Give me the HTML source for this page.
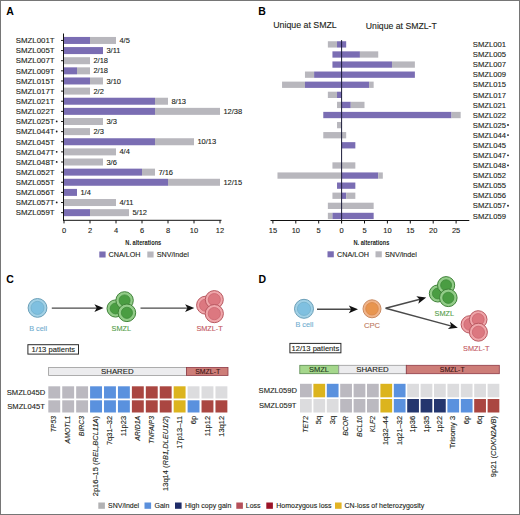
<!DOCTYPE html>
<html><head><meta charset="utf-8"><style>
html,body{margin:0;padding:0;background:#fff;}
svg{display:block;font-family:"Liberation Sans", sans-serif;}
</style></head><body>
<svg width="520" height="515" viewBox="0 0 520 515">
<rect width="520" height="515" fill="#fff"/>
<text x="6.3" y="14.6" font-size="10.5" text-anchor="start" fill="#000" font-weight="bold" font-style="normal" >A</text>
<rect x="90" y="36.95" width="26" height="7" fill="#b8b7bd" />
<rect x="64" y="36.95" width="26" height="7" fill="#7a6db3" />
<text x="54.6" y="43.2" font-size="7.85" text-anchor="end" fill="#231f20" font-weight="normal" font-style="normal" stroke="#231f20" stroke-width="0.12" >SMZL001T</text>
<line x1="61" y1="40.45" x2="63.5" y2="40.45" stroke="#222" stroke-width="1.0"/>
<text x="119.4" y="43.05" font-size="7.5" text-anchor="start" fill="#231f20" font-weight="normal" font-style="normal" stroke="#231f20" stroke-width="0.12" >4/5</text>
<rect x="64" y="47.08" width="39" height="7" fill="#7a6db3" />
<text x="54.6" y="53.33" font-size="7.85" text-anchor="end" fill="#231f20" font-weight="normal" font-style="normal" stroke="#231f20" stroke-width="0.12" >SMZL005T</text>
<line x1="61" y1="50.58" x2="63.5" y2="50.58" stroke="#222" stroke-width="1.0"/>
<text x="106.4" y="53.18" font-size="7.5" text-anchor="start" fill="#231f20" font-weight="normal" font-style="normal" stroke="#231f20" stroke-width="0.12" >3/11</text>
<rect x="64" y="57.21" width="26" height="7" fill="#b8b7bd" />
<text x="54.6" y="63.46" font-size="7.85" text-anchor="end" fill="#231f20" font-weight="normal" font-style="normal" stroke="#231f20" stroke-width="0.12" >SMZL007T</text>
<line x1="61" y1="60.71" x2="63.5" y2="60.71" stroke="#222" stroke-width="1.0"/>
<text x="93.4" y="63.31" font-size="7.5" text-anchor="start" fill="#231f20" font-weight="normal" font-style="normal" stroke="#231f20" stroke-width="0.12" >2/18</text>
<rect x="77" y="67.34" width="13" height="7" fill="#b8b7bd" />
<rect x="64" y="67.34" width="13" height="7" fill="#7a6db3" />
<text x="54.6" y="73.59" font-size="7.85" text-anchor="end" fill="#231f20" font-weight="normal" font-style="normal" stroke="#231f20" stroke-width="0.12" >SMZL009T</text>
<line x1="61" y1="70.84" x2="63.5" y2="70.84" stroke="#222" stroke-width="1.0"/>
<text x="93.4" y="73.44" font-size="7.5" text-anchor="start" fill="#231f20" font-weight="normal" font-style="normal" stroke="#231f20" stroke-width="0.12" >2/18</text>
<rect x="90" y="77.47" width="13" height="7" fill="#b8b7bd" />
<rect x="64" y="77.47" width="26" height="7" fill="#7a6db3" />
<text x="54.6" y="83.72" font-size="7.85" text-anchor="end" fill="#231f20" font-weight="normal" font-style="normal" stroke="#231f20" stroke-width="0.12" >SMZL015T</text>
<line x1="61" y1="80.97" x2="63.5" y2="80.97" stroke="#222" stroke-width="1.0"/>
<text x="106.4" y="83.57" font-size="7.5" text-anchor="start" fill="#231f20" font-weight="normal" font-style="normal" stroke="#231f20" stroke-width="0.12" >3/10</text>
<rect x="64" y="87.6" width="26" height="7" fill="#b8b7bd" />
<text x="54.6" y="93.85" font-size="7.85" text-anchor="end" fill="#231f20" font-weight="normal" font-style="normal" stroke="#231f20" stroke-width="0.12" >SMZL017T</text>
<line x1="61" y1="91.1" x2="63.5" y2="91.1" stroke="#222" stroke-width="1.0"/>
<text x="93.4" y="93.7" font-size="7.5" text-anchor="start" fill="#231f20" font-weight="normal" font-style="normal" stroke="#231f20" stroke-width="0.12" >2/2</text>
<rect x="155" y="97.73" width="13" height="7" fill="#b8b7bd" />
<rect x="64" y="97.73" width="91" height="7" fill="#7a6db3" />
<text x="54.6" y="103.98" font-size="7.85" text-anchor="end" fill="#231f20" font-weight="normal" font-style="normal" stroke="#231f20" stroke-width="0.12" >SMZL021T</text>
<line x1="61" y1="101.23" x2="63.5" y2="101.23" stroke="#222" stroke-width="1.0"/>
<text x="171.4" y="103.83" font-size="7.5" text-anchor="start" fill="#231f20" font-weight="normal" font-style="normal" stroke="#231f20" stroke-width="0.12" >8/13</text>
<rect x="155" y="107.86" width="65" height="7" fill="#b8b7bd" />
<rect x="64" y="107.86" width="91" height="7" fill="#7a6db3" />
<text x="54.6" y="114.11" font-size="7.85" text-anchor="end" fill="#231f20" font-weight="normal" font-style="normal" stroke="#231f20" stroke-width="0.12" >SMZL022T</text>
<line x1="61" y1="111.36" x2="63.5" y2="111.36" stroke="#222" stroke-width="1.0"/>
<text x="223.4" y="113.96" font-size="7.5" text-anchor="start" fill="#231f20" font-weight="normal" font-style="normal" stroke="#231f20" stroke-width="0.12" >12/38</text>
<rect x="64" y="117.99" width="39" height="7" fill="#b8b7bd" />
<text x="54.6" y="124.24" font-size="7.85" text-anchor="end" fill="#231f20" font-weight="normal" font-style="normal" stroke="#231f20" stroke-width="0.12" >SMZL025T</text>
<circle cx="56.7" cy="121.39" r="0.9" fill="#231f20"/>
<line x1="61" y1="121.49" x2="63.5" y2="121.49" stroke="#222" stroke-width="1.0"/>
<text x="106.4" y="124.09" font-size="7.5" text-anchor="start" fill="#231f20" font-weight="normal" font-style="normal" stroke="#231f20" stroke-width="0.12" >3/3</text>
<rect x="64" y="128.12" width="26" height="7" fill="#b8b7bd" />
<text x="54.6" y="134.37" font-size="7.85" text-anchor="end" fill="#231f20" font-weight="normal" font-style="normal" stroke="#231f20" stroke-width="0.12" >SMZL044T</text>
<circle cx="56.7" cy="131.52" r="0.9" fill="#231f20"/>
<line x1="61" y1="131.62" x2="63.5" y2="131.62" stroke="#222" stroke-width="1.0"/>
<text x="93.4" y="134.22" font-size="7.5" text-anchor="start" fill="#231f20" font-weight="normal" font-style="normal" stroke="#231f20" stroke-width="0.12" >2/3</text>
<rect x="155" y="138.25" width="39" height="7" fill="#b8b7bd" />
<rect x="64" y="138.25" width="91" height="7" fill="#7a6db3" />
<text x="54.6" y="144.5" font-size="7.85" text-anchor="end" fill="#231f20" font-weight="normal" font-style="normal" stroke="#231f20" stroke-width="0.12" >SMZL045T</text>
<line x1="61" y1="141.75" x2="63.5" y2="141.75" stroke="#222" stroke-width="1.0"/>
<text x="197.4" y="144.35" font-size="7.5" text-anchor="start" fill="#231f20" font-weight="normal" font-style="normal" stroke="#231f20" stroke-width="0.12" >10/13</text>
<rect x="64" y="148.38" width="52" height="7" fill="#b8b7bd" />
<text x="54.6" y="154.63" font-size="7.85" text-anchor="end" fill="#231f20" font-weight="normal" font-style="normal" stroke="#231f20" stroke-width="0.12" >SMZL047T</text>
<circle cx="56.7" cy="151.78" r="0.9" fill="#231f20"/>
<line x1="61" y1="151.88" x2="63.5" y2="151.88" stroke="#222" stroke-width="1.0"/>
<text x="119.4" y="154.48" font-size="7.5" text-anchor="start" fill="#231f20" font-weight="normal" font-style="normal" stroke="#231f20" stroke-width="0.12" >4/4</text>
<rect x="64" y="158.51" width="39" height="7" fill="#b8b7bd" />
<text x="54.6" y="164.76" font-size="7.85" text-anchor="end" fill="#231f20" font-weight="normal" font-style="normal" stroke="#231f20" stroke-width="0.12" >SMZL048T</text>
<circle cx="56.7" cy="161.91" r="0.9" fill="#231f20"/>
<line x1="61" y1="162.01" x2="63.5" y2="162.01" stroke="#222" stroke-width="1.0"/>
<text x="106.4" y="164.61" font-size="7.5" text-anchor="start" fill="#231f20" font-weight="normal" font-style="normal" stroke="#231f20" stroke-width="0.12" >3/6</text>
<rect x="142" y="168.64" width="13" height="7" fill="#b8b7bd" />
<rect x="64" y="168.64" width="78" height="7" fill="#7a6db3" />
<text x="54.6" y="174.89" font-size="7.85" text-anchor="end" fill="#231f20" font-weight="normal" font-style="normal" stroke="#231f20" stroke-width="0.12" >SMZL052T</text>
<line x1="61" y1="172.14" x2="63.5" y2="172.14" stroke="#222" stroke-width="1.0"/>
<text x="158.4" y="174.74" font-size="7.5" text-anchor="start" fill="#231f20" font-weight="normal" font-style="normal" stroke="#231f20" stroke-width="0.12" >7/16</text>
<rect x="168" y="178.77" width="52" height="7" fill="#b8b7bd" />
<rect x="64" y="178.77" width="104" height="7" fill="#7a6db3" />
<text x="54.6" y="185.02" font-size="7.85" text-anchor="end" fill="#231f20" font-weight="normal" font-style="normal" stroke="#231f20" stroke-width="0.12" >SMZL055T</text>
<line x1="61" y1="182.27" x2="63.5" y2="182.27" stroke="#222" stroke-width="1.0"/>
<text x="223.4" y="184.87" font-size="7.5" text-anchor="start" fill="#231f20" font-weight="normal" font-style="normal" stroke="#231f20" stroke-width="0.12" >12/15</text>
<rect x="64" y="188.9" width="13" height="7" fill="#7a6db3" />
<text x="54.6" y="195.15" font-size="7.85" text-anchor="end" fill="#231f20" font-weight="normal" font-style="normal" stroke="#231f20" stroke-width="0.12" >SMZL056T</text>
<line x1="61" y1="192.4" x2="63.5" y2="192.4" stroke="#222" stroke-width="1.0"/>
<text x="80.4" y="195" font-size="7.5" text-anchor="start" fill="#231f20" font-weight="normal" font-style="normal" stroke="#231f20" stroke-width="0.12" >1/4</text>
<rect x="64" y="199.03" width="52" height="7" fill="#b8b7bd" />
<text x="54.6" y="205.28" font-size="7.85" text-anchor="end" fill="#231f20" font-weight="normal" font-style="normal" stroke="#231f20" stroke-width="0.12" >SMZL057T</text>
<circle cx="56.7" cy="202.43" r="0.9" fill="#231f20"/>
<line x1="61" y1="202.53" x2="63.5" y2="202.53" stroke="#222" stroke-width="1.0"/>
<text x="119.4" y="205.13" font-size="7.5" text-anchor="start" fill="#231f20" font-weight="normal" font-style="normal" stroke="#231f20" stroke-width="0.12" >4/11</text>
<rect x="90" y="209.16" width="39" height="7" fill="#b8b7bd" />
<rect x="64" y="209.16" width="26" height="7" fill="#7a6db3" />
<text x="54.6" y="215.41" font-size="7.85" text-anchor="end" fill="#231f20" font-weight="normal" font-style="normal" stroke="#231f20" stroke-width="0.12" >SMZL059T</text>
<line x1="61" y1="212.66" x2="63.5" y2="212.66" stroke="#222" stroke-width="1.0"/>
<text x="132.4" y="215.26" font-size="7.5" text-anchor="start" fill="#231f20" font-weight="normal" font-style="normal" stroke="#231f20" stroke-width="0.12" >5/12</text>
<line x1="63.5" y1="33.5" x2="63.5" y2="220.8" stroke="#111" stroke-width="1"/>
<line x1="63" y1="220.3" x2="221.5" y2="220.3" stroke="#111" stroke-width="1"/>
<line x1="64" y1="220.3" x2="64" y2="223.4" stroke="#111" stroke-width="1.0"/>
<text x="64" y="232.8" font-size="7.5" text-anchor="middle" fill="#231f20" font-weight="normal" font-style="normal" stroke="#231f20" stroke-width="0.12" >0</text>
<line x1="90" y1="220.3" x2="90" y2="223.4" stroke="#111" stroke-width="1.0"/>
<text x="90" y="232.8" font-size="7.5" text-anchor="middle" fill="#231f20" font-weight="normal" font-style="normal" stroke="#231f20" stroke-width="0.12" >2</text>
<line x1="116" y1="220.3" x2="116" y2="223.4" stroke="#111" stroke-width="1.0"/>
<text x="116" y="232.8" font-size="7.5" text-anchor="middle" fill="#231f20" font-weight="normal" font-style="normal" stroke="#231f20" stroke-width="0.12" >4</text>
<line x1="142" y1="220.3" x2="142" y2="223.4" stroke="#111" stroke-width="1.0"/>
<text x="142" y="232.8" font-size="7.5" text-anchor="middle" fill="#231f20" font-weight="normal" font-style="normal" stroke="#231f20" stroke-width="0.12" >6</text>
<line x1="168" y1="220.3" x2="168" y2="223.4" stroke="#111" stroke-width="1.0"/>
<text x="168" y="232.8" font-size="7.5" text-anchor="middle" fill="#231f20" font-weight="normal" font-style="normal" stroke="#231f20" stroke-width="0.12" >8</text>
<line x1="194" y1="220.3" x2="194" y2="223.4" stroke="#111" stroke-width="1.0"/>
<text x="194" y="232.8" font-size="7.5" text-anchor="middle" fill="#231f20" font-weight="normal" font-style="normal" stroke="#231f20" stroke-width="0.12" >10</text>
<line x1="220" y1="220.3" x2="220" y2="223.4" stroke="#111" stroke-width="1.0"/>
<text x="220" y="232.8" font-size="7.5" text-anchor="middle" fill="#231f20" font-weight="normal" font-style="normal" stroke="#231f20" stroke-width="0.12" >12</text>
<text x="258.3" y="14.7" font-size="10.5" text-anchor="start" fill="#000" font-weight="bold" font-style="normal" >B</text>
<text x="273.2" y="28.4" font-size="8.8" text-anchor="start" fill="#231f20" font-weight="normal" font-style="normal" stroke="#231f20" stroke-width="0.12" >Unique at SMZL</text>
<text x="365.8" y="28.5" font-size="8.7" text-anchor="start" fill="#231f20" font-weight="normal" font-style="normal" stroke="#231f20" stroke-width="0.12" >Unique at SMZL-T</text>
<rect x="327.86" y="41.25" width="9.16" height="6.3" fill="#b8b7bd" />
<rect x="337.02" y="41.25" width="9.16" height="6.3" fill="#7a6db3" />
<text x="472.8" y="47.05" font-size="7.7" text-anchor="start" fill="#231f20" font-weight="normal" font-style="normal" stroke="#231f20" stroke-width="0.12" >SMZL001</text>
<rect x="332.44" y="51.34" width="27.48" height="6.3" fill="#7a6db3" />
<rect x="359.92" y="51.34" width="18.32" height="6.3" fill="#b8b7bd" />
<text x="472.8" y="57.14" font-size="7.7" text-anchor="start" fill="#231f20" font-weight="normal" font-style="normal" stroke="#231f20" stroke-width="0.12" >SMZL005</text>
<rect x="332.44" y="61.43" width="59.54" height="6.3" fill="#7a6db3" />
<rect x="391.98" y="61.43" width="22.9" height="6.3" fill="#b8b7bd" />
<text x="472.8" y="67.23" font-size="7.7" text-anchor="start" fill="#231f20" font-weight="normal" font-style="normal" stroke="#231f20" stroke-width="0.12" >SMZL007</text>
<rect x="304.96" y="71.52" width="9.16" height="6.3" fill="#b8b7bd" />
<rect x="314.12" y="71.52" width="100.76" height="6.3" fill="#7a6db3" />
<text x="472.8" y="77.32" font-size="7.7" text-anchor="start" fill="#231f20" font-weight="normal" font-style="normal" stroke="#231f20" stroke-width="0.12" >SMZL009</text>
<rect x="282.06" y="81.61" width="22.9" height="6.3" fill="#b8b7bd" />
<rect x="304.96" y="81.61" width="64.12" height="6.3" fill="#7a6db3" />
<rect x="369.08" y="81.61" width="4.58" height="6.3" fill="#b8b7bd" />
<text x="472.8" y="87.41" font-size="7.7" text-anchor="start" fill="#231f20" font-weight="normal" font-style="normal" stroke="#231f20" stroke-width="0.12" >SMZL015</text>
<rect x="327.86" y="91.7" width="9.16" height="6.3" fill="#b8b7bd" />
<rect x="337.02" y="91.7" width="4.58" height="6.3" fill="#7a6db3" />
<text x="472.8" y="97.5" font-size="7.7" text-anchor="start" fill="#231f20" font-weight="normal" font-style="normal" stroke="#231f20" stroke-width="0.12" >SMZL017</text>
<rect x="337.02" y="101.79" width="4.58" height="6.3" fill="#b8b7bd" />
<rect x="341.6" y="101.79" width="9.16" height="6.3" fill="#7a6db3" />
<rect x="350.76" y="101.79" width="13.74" height="6.3" fill="#b8b7bd" />
<text x="472.8" y="107.59" font-size="7.7" text-anchor="start" fill="#231f20" font-weight="normal" font-style="normal" stroke="#231f20" stroke-width="0.12" >SMZL021</text>
<rect x="323.28" y="111.88" width="128.24" height="6.3" fill="#7a6db3" />
<rect x="451.52" y="111.88" width="9.16" height="6.3" fill="#b8b7bd" />
<text x="472.8" y="117.68" font-size="7.7" text-anchor="start" fill="#231f20" font-weight="normal" font-style="normal" stroke="#231f20" stroke-width="0.12" >SMZL022</text>
<rect x="337.02" y="121.97" width="4.58" height="6.3" fill="#b8b7bd" />
<text x="472.8" y="127.77" font-size="7.7" text-anchor="start" fill="#231f20" font-weight="normal" font-style="normal" stroke="#231f20" stroke-width="0.12" >SMZL025</text>
<circle cx="508.0" cy="125.02" r="0.9" fill="#231f20"/>
<rect x="323.28" y="132.06" width="22.9" height="6.3" fill="#b8b7bd" />
<text x="472.8" y="137.86" font-size="7.7" text-anchor="start" fill="#231f20" font-weight="normal" font-style="normal" stroke="#231f20" stroke-width="0.12" >SMZL044</text>
<circle cx="508.0" cy="135.11" r="0.9" fill="#231f20"/>
<rect x="341.6" y="142.15" width="13.74" height="6.3" fill="#7a6db3" />
<text x="472.8" y="147.95" font-size="7.7" text-anchor="start" fill="#231f20" font-weight="normal" font-style="normal" stroke="#231f20" stroke-width="0.12" >SMZL045</text>
<text x="472.8" y="158.04" font-size="7.7" text-anchor="start" fill="#231f20" font-weight="normal" font-style="normal" stroke="#231f20" stroke-width="0.12" >SMZL047</text>
<circle cx="508.0" cy="155.29" r="0.9" fill="#231f20"/>
<rect x="332.44" y="162.33" width="22.9" height="6.3" fill="#b8b7bd" />
<text x="472.8" y="168.13" font-size="7.7" text-anchor="start" fill="#231f20" font-weight="normal" font-style="normal" stroke="#231f20" stroke-width="0.12" >SMZL048</text>
<circle cx="508.0" cy="165.38" r="0.9" fill="#231f20"/>
<rect x="277.48" y="172.42" width="64.12" height="6.3" fill="#b8b7bd" />
<rect x="341.6" y="172.42" width="36.64" height="6.3" fill="#7a6db3" />
<rect x="378.24" y="172.42" width="4.58" height="6.3" fill="#b8b7bd" />
<text x="472.8" y="178.22" font-size="7.7" text-anchor="start" fill="#231f20" font-weight="normal" font-style="normal" stroke="#231f20" stroke-width="0.12" >SMZL052</text>
<rect x="337.02" y="182.51" width="18.32" height="6.3" fill="#7a6db3" />
<text x="472.8" y="188.31" font-size="7.7" text-anchor="start" fill="#231f20" font-weight="normal" font-style="normal" stroke="#231f20" stroke-width="0.12" >SMZL055</text>
<rect x="332.44" y="192.6" width="9.16" height="6.3" fill="#b8b7bd" />
<rect x="341.6" y="192.6" width="4.58" height="6.3" fill="#7a6db3" />
<rect x="346.18" y="192.6" width="9.16" height="6.3" fill="#b8b7bd" />
<text x="472.8" y="198.4" font-size="7.7" text-anchor="start" fill="#231f20" font-weight="normal" font-style="normal" stroke="#231f20" stroke-width="0.12" >SMZL056</text>
<rect x="327.86" y="202.69" width="45.8" height="6.3" fill="#b8b7bd" />
<text x="472.8" y="208.49" font-size="7.7" text-anchor="start" fill="#231f20" font-weight="normal" font-style="normal" stroke="#231f20" stroke-width="0.12" >SMZL057</text>
<circle cx="508.0" cy="205.74" r="0.9" fill="#231f20"/>
<rect x="327.86" y="212.78" width="4.58" height="6.3" fill="#b8b7bd" />
<rect x="332.44" y="212.78" width="41.22" height="6.3" fill="#7a6db3" />
<text x="472.8" y="218.58" font-size="7.7" text-anchor="start" fill="#231f20" font-weight="normal" font-style="normal" stroke="#231f20" stroke-width="0.12" >SMZL059</text>
<line x1="341.6" y1="40.1" x2="341.6" y2="220.8" stroke="#1c1c3a" stroke-width="1"/>
<line x1="270.5" y1="220.5" x2="469.3" y2="220.5" stroke="#111" stroke-width="1"/>
<line x1="272.9" y1="220.5" x2="272.9" y2="223.5" stroke="#111" stroke-width="1.0"/>
<text x="272.9" y="232.6" font-size="7.5" text-anchor="middle" fill="#231f20" font-weight="normal" font-style="normal" stroke="#231f20" stroke-width="0.12" >15</text>
<line x1="295.8" y1="220.5" x2="295.8" y2="223.5" stroke="#111" stroke-width="1.0"/>
<text x="295.8" y="232.6" font-size="7.5" text-anchor="middle" fill="#231f20" font-weight="normal" font-style="normal" stroke="#231f20" stroke-width="0.12" >10</text>
<line x1="318.7" y1="220.5" x2="318.7" y2="223.5" stroke="#111" stroke-width="1.0"/>
<text x="318.7" y="232.6" font-size="7.5" text-anchor="middle" fill="#231f20" font-weight="normal" font-style="normal" stroke="#231f20" stroke-width="0.12" >5</text>
<line x1="341.6" y1="220.5" x2="341.6" y2="223.5" stroke="#111" stroke-width="1.0"/>
<text x="341.6" y="232.6" font-size="7.5" text-anchor="middle" fill="#231f20" font-weight="normal" font-style="normal" stroke="#231f20" stroke-width="0.12" >0</text>
<line x1="364.5" y1="220.5" x2="364.5" y2="223.5" stroke="#111" stroke-width="1.0"/>
<text x="364.5" y="232.6" font-size="7.5" text-anchor="middle" fill="#231f20" font-weight="normal" font-style="normal" stroke="#231f20" stroke-width="0.12" >5</text>
<line x1="387.4" y1="220.5" x2="387.4" y2="223.5" stroke="#111" stroke-width="1.0"/>
<text x="387.4" y="232.6" font-size="7.5" text-anchor="middle" fill="#231f20" font-weight="normal" font-style="normal" stroke="#231f20" stroke-width="0.12" >10</text>
<line x1="410.3" y1="220.5" x2="410.3" y2="223.5" stroke="#111" stroke-width="1.0"/>
<text x="410.3" y="232.6" font-size="7.5" text-anchor="middle" fill="#231f20" font-weight="normal" font-style="normal" stroke="#231f20" stroke-width="0.12" >15</text>
<line x1="433.2" y1="220.5" x2="433.2" y2="223.5" stroke="#111" stroke-width="1.0"/>
<text x="433.2" y="232.6" font-size="7.5" text-anchor="middle" fill="#231f20" font-weight="normal" font-style="normal" stroke="#231f20" stroke-width="0.12" >20</text>
<line x1="456.1" y1="220.5" x2="456.1" y2="223.5" stroke="#111" stroke-width="1.0"/>
<text x="456.1" y="232.6" font-size="7.5" text-anchor="middle" fill="#231f20" font-weight="normal" font-style="normal" stroke="#231f20" stroke-width="0.12" >25</text>
<text transform="translate(143.3 245.1) scale(0.7 1)" x="0" y="0" font-size="8.1" font-weight="bold" text-anchor="middle" fill="#231f20">N. alterations</text>
<text transform="translate(371.4 245.1) scale(0.7 1)" x="0" y="0" font-size="8.1" font-weight="bold" text-anchor="middle" fill="#231f20">N. alterations</text>
<rect x="99.3" y="251.5" width="6.3" height="6" fill="#7a6db3" />
<text x="108.6" y="257.1" font-size="7.2" text-anchor="start" fill="#231f20" font-weight="normal" font-style="normal" stroke="#231f20" stroke-width="0.12" >CNA/LOH</text>
<rect x="147.3" y="251.5" width="6.3" height="6" fill="#b8b7bd" />
<text x="156.8" y="257.1" font-size="7.2" text-anchor="start" fill="#231f20" font-weight="normal" font-style="normal" stroke="#231f20" stroke-width="0.12" >SNV/indel</text>
<rect x="327.5" y="251.3" width="6.3" height="6" fill="#7a6db3" />
<text x="337" y="256.9" font-size="7.2" text-anchor="start" fill="#231f20" font-weight="normal" font-style="normal" stroke="#231f20" stroke-width="0.12" >CNA/LOH</text>
<rect x="375.5" y="251.3" width="6.3" height="6" fill="#b8b7bd" />
<text x="385" y="256.9" font-size="7.2" text-anchor="start" fill="#231f20" font-weight="normal" font-style="normal" stroke="#231f20" stroke-width="0.12" >SNV/indel</text>
<text x="6.3" y="282.5" font-size="10.5" text-anchor="start" fill="#000" font-weight="bold" font-style="normal" >C</text>
<circle cx="37.5" cy="307.9" r="9.4" fill="#a2d1e6" stroke="#6a9fb8" stroke-width="1"/>
<circle cx="37.5" cy="307.9" r="6.53" fill="#7fc0e0" stroke="#72b0cc" stroke-width="0.8"/>
<line x1="51.8" y1="308.1" x2="97.2" y2="308.1" stroke="#4a4a4a" stroke-width="1.4"/>
<polygon points="103.6,308.1 94.4,311.95 96.7,308.1 94.4,304.25" fill="#111"/>
<circle cx="115.6" cy="308.5" r="8.6" fill="#92cc88" stroke="#3f8138" stroke-width="1"/>
<circle cx="115.6" cy="308.5" r="5.46" fill="#4a9d42" stroke="#3f8a3a" stroke-width="0.8"/>
<circle cx="124.6" cy="300.4" r="8.7" fill="#92cc88" stroke="#3f8138" stroke-width="1"/>
<circle cx="124.6" cy="300.4" r="5.52" fill="#4a9d42" stroke="#3f8a3a" stroke-width="0.8"/>
<circle cx="126.9" cy="312.8" r="8.8" fill="#92cc88" stroke="#3f8138" stroke-width="1"/>
<circle cx="126.9" cy="312.8" r="5.58" fill="#4a9d42" stroke="#3f8a3a" stroke-width="0.8"/>
<line x1="140.5" y1="308.1" x2="187.9" y2="308.1" stroke="#4a4a4a" stroke-width="1.4"/>
<polygon points="194.3,308.1 185.1,311.95 187.4,308.1 185.1,304.25" fill="#111"/>
<circle cx="205.6" cy="305.2" r="9" fill="#efa6aa" stroke="#b85860" stroke-width="1"/>
<circle cx="205.6" cy="305.2" r="6.08" fill="#dc7880" stroke="#cc6670" stroke-width="0.8"/>
<circle cx="214.3" cy="299.6" r="9" fill="#efa6aa" stroke="#b85860" stroke-width="1"/>
<circle cx="214.3" cy="299.6" r="6.08" fill="#dc7880" stroke="#cc6670" stroke-width="0.8"/>
<circle cx="214.3" cy="313.6" r="9.1" fill="#efa6aa" stroke="#b85860" stroke-width="1"/>
<circle cx="214.3" cy="313.6" r="6.14" fill="#dc7880" stroke="#cc6670" stroke-width="0.8"/>
<text x="38.1" y="330.7" font-size="7.3" text-anchor="middle" fill="#72aed0" font-weight="normal" font-style="normal" stroke="#72aed0" stroke-width="0.12" >B cell</text>
<text x="121.3" y="330.7" font-size="7.3" text-anchor="middle" fill="#56a04c" font-weight="normal" font-style="normal" stroke="#56a04c" stroke-width="0.12" >SMZL</text>
<text x="209.6" y="331" font-size="7.3" text-anchor="middle" fill="#c45a63" font-weight="normal" font-style="normal" stroke="#c45a63" stroke-width="0.12" >SMZL-T</text>
<rect x="27.9" y="344.7" width="50.6" height="9.4" fill="#fff" stroke="#2a2a2a" stroke-width="1" />
<text x="53.3" y="351.9" font-size="7.6" text-anchor="middle" fill="#231f20" font-weight="normal" font-style="normal" stroke="#231f20" stroke-width="0.12" >1/13 patients</text>
<text x="258.6" y="282.5" font-size="10.5" text-anchor="start" fill="#000" font-weight="bold" font-style="normal" >D</text>
<circle cx="304" cy="308.8" r="9.5" fill="#a2d1e6" stroke="#6a9fb8" stroke-width="1"/>
<circle cx="304" cy="308.8" r="6.6" fill="#7fc0e0" stroke="#72b0cc" stroke-width="0.8"/>
<line x1="317" y1="309.3" x2="351.6" y2="309.3" stroke="#4a4a4a" stroke-width="1.4"/>
<polygon points="358,309.3 348.8,313.15 351.1,309.3 348.8,305.45" fill="#111"/>
<circle cx="372" cy="308.8" r="9" fill="#f0b489" stroke="#c98a62" stroke-width="1"/>
<circle cx="372" cy="308.8" r="6.27" fill="#e8954f" stroke="#d8874a" stroke-width="0.8"/>
<line x1="385.6" y1="308.2" x2="420.01" y2="299.22" stroke="#4a4a4a" stroke-width="1.4"/>
<polygon points="426.2,297.6 418.27,303.65 419.52,299.34 416.33,296.2" fill="#111"/>
<line x1="385.6" y1="308.2" x2="451.62" y2="326.12" stroke="#4a4a4a" stroke-width="1.4"/>
<polygon points="457.8,327.8 447.91,329.11 451.14,325.99 449.93,321.67" fill="#111"/>
<circle cx="437.8" cy="293.5" r="8.5" fill="#92cc88" stroke="#3f8138" stroke-width="1"/>
<circle cx="437.8" cy="293.5" r="5.4" fill="#4a9d42" stroke="#3f8a3a" stroke-width="0.8"/>
<circle cx="446.1" cy="285.2" r="8.6" fill="#92cc88" stroke="#3f8138" stroke-width="1"/>
<circle cx="446.1" cy="285.2" r="5.46" fill="#4a9d42" stroke="#3f8a3a" stroke-width="0.8"/>
<circle cx="448.3" cy="297.8" r="8.8" fill="#92cc88" stroke="#3f8138" stroke-width="1"/>
<circle cx="448.3" cy="297.8" r="5.58" fill="#4a9d42" stroke="#3f8a3a" stroke-width="0.8"/>
<circle cx="469.8" cy="324.4" r="8.7" fill="#efa6aa" stroke="#b85860" stroke-width="1"/>
<circle cx="469.8" cy="324.4" r="5.89" fill="#dc7880" stroke="#cc6670" stroke-width="0.8"/>
<circle cx="478.2" cy="319.5" r="8.8" fill="#efa6aa" stroke="#b85860" stroke-width="1"/>
<circle cx="478.2" cy="319.5" r="5.95" fill="#dc7880" stroke="#cc6670" stroke-width="0.8"/>
<circle cx="478.4" cy="332.2" r="9" fill="#efa6aa" stroke="#b85860" stroke-width="1"/>
<circle cx="478.4" cy="332.2" r="6.08" fill="#dc7880" stroke="#cc6670" stroke-width="0.8"/>
<text x="304.4" y="327.3" font-size="7.3" text-anchor="middle" fill="#72aed0" font-weight="normal" font-style="normal" stroke="#72aed0" stroke-width="0.12" >B cell</text>
<text x="372" y="327.5" font-size="7.6" text-anchor="middle" fill="#c07a5e" font-weight="normal" font-style="normal" stroke="#c07a5e" stroke-width="0.12" >CPC</text>
<text x="444.3" y="316.4" font-size="7.3" text-anchor="middle" fill="#56a04c" font-weight="normal" font-style="normal" stroke="#56a04c" stroke-width="0.12" >SMZL</text>
<text x="476.3" y="351.4" font-size="7.3" text-anchor="middle" fill="#c45a63" font-weight="normal" font-style="normal" stroke="#c45a63" stroke-width="0.12" >SMZL-T</text>
<rect x="289.9" y="343.4" width="51" height="9.4" fill="#fff" stroke="#2a2a2a" stroke-width="1" />
<text x="315.4" y="350.6" font-size="7.6" text-anchor="middle" fill="#231f20" font-weight="normal" font-style="normal" stroke="#231f20" stroke-width="0.12" >12/13 patients</text>
<rect x="48.6" y="367.4" width="137.8" height="8" fill="#ececee" stroke="#9a9a9a" stroke-width="0.8" />
<rect x="186.4" y="367.4" width="41.6" height="8" fill="#cd7d78" stroke="#8e3a45" stroke-width="0.8" />
<text x="117.3" y="373.5" font-size="7.8" text-anchor="middle" fill="#231f20" font-weight="normal" font-style="normal" stroke="#231f20" stroke-width="0.12" >SHARED</text>
<text x="207.7" y="373.5" font-size="7.8" text-anchor="middle" fill="#3b1414" font-weight="normal" font-style="normal" stroke="#3b1414" stroke-width="0.12" textLength="25" lengthAdjust="spacingAndGlyphs">SMZL-T</text>
<rect x="48.3" y="386.3" width="11.9" height="12.2" fill="#bbb9c0" />
<rect x="62.23" y="386.3" width="11.9" height="12.2" fill="#bbb9c0" />
<rect x="76.16" y="386.3" width="11.9" height="12.2" fill="#bbb9c0" />
<rect x="90.09" y="386.3" width="11.9" height="12.2" fill="#5a91de" />
<rect x="104.02" y="386.3" width="11.9" height="12.2" fill="#5a91de" />
<rect x="117.95" y="386.3" width="11.9" height="12.2" fill="#5a91de" />
<rect x="131.88" y="386.3" width="11.9" height="12.2" fill="#aa4641" />
<rect x="145.81" y="386.3" width="11.9" height="12.2" fill="#aa4641" />
<rect x="159.74" y="386.3" width="11.9" height="12.2" fill="#aa4641" />
<rect x="173.67" y="386.3" width="11.9" height="12.2" fill="#dcb41e" />
<rect x="187.6" y="386.3" width="11.9" height="12.2" fill="#dcdcde" />
<rect x="201.53" y="386.3" width="11.9" height="12.2" fill="#dcdcde" />
<rect x="215.46" y="386.3" width="11.9" height="12.2" fill="#dcdcde" />
<rect x="48.3" y="400.3" width="11.9" height="12.2" fill="#bbb9c0" />
<rect x="62.23" y="400.3" width="11.9" height="12.2" fill="#bbb9c0" />
<rect x="76.16" y="400.3" width="11.9" height="12.2" fill="#bbb9c0" />
<rect x="90.09" y="400.3" width="11.9" height="12.2" fill="#5a91de" />
<rect x="104.02" y="400.3" width="11.9" height="12.2" fill="#5a91de" />
<rect x="117.95" y="400.3" width="11.9" height="12.2" fill="#5a91de" />
<rect x="131.88" y="400.3" width="11.9" height="12.2" fill="#aa4641" />
<rect x="145.81" y="400.3" width="11.9" height="12.2" fill="#aa4641" />
<rect x="159.74" y="400.3" width="11.9" height="12.2" fill="#aa4641" />
<rect x="173.67" y="400.3" width="11.9" height="12.2" fill="#dcb41e" />
<rect x="187.6" y="400.3" width="11.9" height="12.2" fill="#5a91de" />
<rect x="201.53" y="400.3" width="11.9" height="12.2" fill="#aa4641" />
<rect x="215.46" y="400.3" width="11.9" height="12.2" fill="#aa4641" />
<text x="45.2" y="394.7" font-size="7.6" text-anchor="end" fill="#231f20" font-weight="normal" font-style="normal" stroke="#231f20" stroke-width="0.12" >SMZL045D</text>
<text x="44.8" y="408.7" font-size="7.6" text-anchor="end" fill="#231f20" font-weight="normal" font-style="normal" stroke="#231f20" stroke-width="0.12" >SMZL045T</text>
<rect x="299.8" y="365.3" width="39" height="8.4" fill="#a5d78c" stroke="#5a8a50" stroke-width="0.8" />
<rect x="338.8" y="365.3" width="67.5" height="8.4" fill="#ececee" stroke="#9a9a9a" stroke-width="0.8" />
<rect x="406.3" y="365.3" width="93" height="8.4" fill="#cd7d78" stroke="#8e3a45" stroke-width="0.8" />
<text x="318.9" y="371.6" font-size="7.9" text-anchor="middle" fill="#1e3a1e" font-weight="normal" font-style="normal" stroke="#1e3a1e" stroke-width="0.12" textLength="20" lengthAdjust="spacingAndGlyphs">SMZL</text>
<text x="372.5" y="371.6" font-size="7.8" text-anchor="middle" fill="#231f20" font-weight="normal" font-style="normal" stroke="#231f20" stroke-width="0.12" >SHARED</text>
<text x="452.2" y="371.6" font-size="7.9" text-anchor="middle" fill="#3b1414" font-weight="normal" font-style="normal" stroke="#3b1414" stroke-width="0.12" textLength="24.8" lengthAdjust="spacingAndGlyphs">SMZL-T</text>
<rect x="300" y="383.8" width="11.75" height="13.5" fill="#bbb9c0" />
<rect x="313.4" y="383.8" width="11.75" height="13.5" fill="#dcb41e" />
<rect x="326.8" y="383.8" width="11.75" height="13.5" fill="#5a91de" />
<rect x="340.2" y="383.8" width="11.75" height="13.5" fill="#bbb9c0" />
<rect x="353.6" y="383.8" width="11.75" height="13.5" fill="#bbb9c0" />
<rect x="367" y="383.8" width="11.75" height="13.5" fill="#bbb9c0" />
<rect x="380.4" y="383.8" width="11.75" height="13.5" fill="#dcb41e" />
<rect x="393.8" y="383.8" width="11.75" height="13.5" fill="#5a91de" />
<rect x="407.2" y="383.8" width="11.75" height="13.5" fill="#dcdcde" />
<rect x="420.6" y="383.8" width="11.75" height="13.5" fill="#dcdcde" />
<rect x="434" y="383.8" width="11.75" height="13.5" fill="#dcdcde" />
<rect x="447.4" y="383.8" width="11.75" height="13.5" fill="#dcdcde" />
<rect x="460.8" y="383.8" width="11.75" height="13.5" fill="#dcdcde" />
<rect x="474.2" y="383.8" width="11.75" height="13.5" fill="#dcdcde" />
<rect x="487.6" y="383.8" width="11.75" height="13.5" fill="#dcdcde" />
<rect x="300" y="399" width="11.75" height="13.5" fill="#dcdcde" />
<rect x="313.4" y="399" width="11.75" height="13.5" fill="#dcdcde" />
<rect x="326.8" y="399" width="11.75" height="13.5" fill="#dcdcde" />
<rect x="340.2" y="399" width="11.75" height="13.5" fill="#bbb9c0" />
<rect x="353.6" y="399" width="11.75" height="13.5" fill="#bbb9c0" />
<rect x="367" y="399" width="11.75" height="13.5" fill="#bbb9c0" />
<rect x="380.4" y="399" width="11.75" height="13.5" fill="#dcb41e" />
<rect x="393.8" y="399" width="11.75" height="13.5" fill="#5a91de" />
<rect x="407.2" y="399" width="11.75" height="13.5" fill="#24366e" />
<rect x="420.6" y="399" width="11.75" height="13.5" fill="#24366e" />
<rect x="434" y="399" width="11.75" height="13.5" fill="#24366e" />
<rect x="447.4" y="399" width="11.75" height="13.5" fill="#5a91de" />
<rect x="460.8" y="399" width="11.75" height="13.5" fill="#5a91de" />
<rect x="474.2" y="399" width="11.75" height="13.5" fill="#aa4641" />
<rect x="487.6" y="399" width="11.75" height="13.5" fill="#aa4641" />
<text x="297" y="393" font-size="7.6" text-anchor="end" fill="#231f20" font-weight="normal" font-style="normal" stroke="#231f20" stroke-width="0.12" >SMZL059D</text>
<text x="296.5" y="407.9" font-size="7.6" text-anchor="end" fill="#231f20" font-weight="normal" font-style="normal" stroke="#231f20" stroke-width="0.12" >SMZL059T</text>
<text transform="translate(56.45 415.9) rotate(-90) scale(0.92 1)" x="0" y="0" font-size="7.5" text-anchor="end" fill="#231f20" stroke="#231f20" stroke-width="0.12"><tspan font-style="italic">TP53</tspan></text>
<text transform="translate(70.38 415.9) rotate(-90) scale(0.92 1)" x="0" y="0" font-size="7.5" text-anchor="end" fill="#231f20" stroke="#231f20" stroke-width="0.12"><tspan font-style="italic">AMOTL1</tspan></text>
<text transform="translate(84.31 415.9) rotate(-90) scale(0.92 1)" x="0" y="0" font-size="7.5" text-anchor="end" fill="#231f20" stroke="#231f20" stroke-width="0.12"><tspan font-style="italic">BIRC3</tspan></text>
<text transform="translate(98.24 415.9) rotate(-90)" x="0" y="0" font-size="7.5" text-anchor="end" fill="#231f20" stroke="#231f20" stroke-width="0.12"><tspan font-style="normal">2p16–15 (</tspan><tspan font-style="italic">REL,BCL11A</tspan><tspan font-style="normal">)</tspan></text>
<text transform="translate(112.17 415.9) rotate(-90)" x="0" y="0" font-size="7.5" text-anchor="end" fill="#231f20" stroke="#231f20" stroke-width="0.12"><tspan font-style="normal">7q31–32</tspan></text>
<text transform="translate(126.1 415.9) rotate(-90)" x="0" y="0" font-size="7.5" text-anchor="end" fill="#231f20" stroke="#231f20" stroke-width="0.12"><tspan font-style="normal">11p23</tspan></text>
<text transform="translate(140.03 415.9) rotate(-90) scale(0.92 1)" x="0" y="0" font-size="7.5" text-anchor="end" fill="#231f20" stroke="#231f20" stroke-width="0.12"><tspan font-style="italic">ARID1A</tspan></text>
<text transform="translate(153.96 415.9) rotate(-90) scale(0.92 1)" x="0" y="0" font-size="7.5" text-anchor="end" fill="#231f20" stroke="#231f20" stroke-width="0.12"><tspan font-style="italic">TNFAIP3</tspan></text>
<text transform="translate(167.89 415.9) rotate(-90)" x="0" y="0" font-size="7.5" text-anchor="end" fill="#231f20" stroke="#231f20" stroke-width="0.12"><tspan font-style="normal">13q14 (</tspan><tspan font-style="italic">RB1,DLEU1/2</tspan><tspan font-style="normal">)</tspan></text>
<text transform="translate(181.82 415.9) rotate(-90)" x="0" y="0" font-size="7.5" text-anchor="end" fill="#231f20" stroke="#231f20" stroke-width="0.12"><tspan font-style="normal">17p13–11</tspan></text>
<text transform="translate(195.75 415.9) rotate(-90)" x="0" y="0" font-size="7.5" text-anchor="end" fill="#231f20" stroke="#231f20" stroke-width="0.12"><tspan font-style="normal">6p</tspan></text>
<text transform="translate(209.68 415.9) rotate(-90)" x="0" y="0" font-size="7.5" text-anchor="end" fill="#231f20" stroke="#231f20" stroke-width="0.12"><tspan font-style="normal">11p12</tspan></text>
<text transform="translate(223.61 415.9) rotate(-90)" x="0" y="0" font-size="7.5" text-anchor="end" fill="#231f20" stroke="#231f20" stroke-width="0.12"><tspan font-style="normal">13q12</tspan></text>
<text transform="translate(308.07 415.9) rotate(-90) scale(0.92 1)" x="0" y="0" font-size="7.5" text-anchor="end" fill="#231f20" stroke="#231f20" stroke-width="0.12"><tspan font-style="italic">TET2</tspan></text>
<text transform="translate(321.47 415.9) rotate(-90)" x="0" y="0" font-size="7.5" text-anchor="end" fill="#231f20" stroke="#231f20" stroke-width="0.12"><tspan font-style="normal">5q</tspan></text>
<text transform="translate(334.88 415.9) rotate(-90)" x="0" y="0" font-size="7.5" text-anchor="end" fill="#231f20" stroke="#231f20" stroke-width="0.12"><tspan font-style="normal">3q</tspan></text>
<text transform="translate(348.27 415.9) rotate(-90) scale(0.92 1)" x="0" y="0" font-size="7.5" text-anchor="end" fill="#231f20" stroke="#231f20" stroke-width="0.12"><tspan font-style="italic">BCOR</tspan></text>
<text transform="translate(361.68 415.9) rotate(-90) scale(0.92 1)" x="0" y="0" font-size="7.5" text-anchor="end" fill="#231f20" stroke="#231f20" stroke-width="0.12"><tspan font-style="italic">BCL10</tspan></text>
<text transform="translate(375.07 415.9) rotate(-90) scale(0.92 1)" x="0" y="0" font-size="7.5" text-anchor="end" fill="#231f20" stroke="#231f20" stroke-width="0.12"><tspan font-style="italic">KLF2</tspan></text>
<text transform="translate(388.47 415.9) rotate(-90)" x="0" y="0" font-size="7.5" text-anchor="end" fill="#231f20" stroke="#231f20" stroke-width="0.12"><tspan font-style="normal">1q32–44</tspan></text>
<text transform="translate(401.88 415.9) rotate(-90)" x="0" y="0" font-size="7.5" text-anchor="end" fill="#231f20" stroke="#231f20" stroke-width="0.12"><tspan font-style="normal">1q21–32</tspan></text>
<text transform="translate(415.27 415.9) rotate(-90)" x="0" y="0" font-size="7.5" text-anchor="end" fill="#231f20" stroke="#231f20" stroke-width="0.12"><tspan font-style="normal">1p36</tspan></text>
<text transform="translate(428.68 415.9) rotate(-90)" x="0" y="0" font-size="7.5" text-anchor="end" fill="#231f20" stroke="#231f20" stroke-width="0.12"><tspan font-style="normal">1p35</tspan></text>
<text transform="translate(442.07 415.9) rotate(-90)" x="0" y="0" font-size="7.5" text-anchor="end" fill="#231f20" stroke="#231f20" stroke-width="0.12"><tspan font-style="normal">1p22</tspan></text>
<text transform="translate(455.47 415.9) rotate(-90)" x="0" y="0" font-size="7.5" text-anchor="end" fill="#231f20" stroke="#231f20" stroke-width="0.12"><tspan font-style="normal">Trisomy 3</tspan></text>
<text transform="translate(468.88 415.9) rotate(-90)" x="0" y="0" font-size="7.5" text-anchor="end" fill="#231f20" stroke="#231f20" stroke-width="0.12"><tspan font-style="normal">6p</tspan></text>
<text transform="translate(482.28 415.9) rotate(-90)" x="0" y="0" font-size="7.5" text-anchor="end" fill="#231f20" stroke="#231f20" stroke-width="0.12"><tspan font-style="normal">6q</tspan></text>
<text transform="translate(495.68 415.9) rotate(-90)" x="0" y="0" font-size="7.5" text-anchor="end" fill="#231f20" stroke="#231f20" stroke-width="0.12"><tspan font-style="normal">9p21 (</tspan><tspan font-style="italic">CDKN2A/B</tspan><tspan font-style="normal">)</tspan></text>
<rect x="98.3" y="502.5" width="6.6" height="6.3" fill="#b2b2b4" />
<text x="108" y="508.3" font-size="7.0" text-anchor="start" fill="#231f20" font-weight="normal" font-style="normal" stroke="#231f20" stroke-width="0.12" >SNV/indel</text>
<rect x="144.5" y="502.5" width="6.6" height="6.3" fill="#5b90dc" />
<text x="154.5" y="508.3" font-size="7.0" text-anchor="start" fill="#231f20" font-weight="normal" font-style="normal" stroke="#231f20" stroke-width="0.12" >Gain</text>
<rect x="175" y="502.5" width="6.6" height="6.3" fill="#1f2c68" />
<text x="185" y="508.3" font-size="7.0" text-anchor="start" fill="#231f20" font-weight="normal" font-style="normal" stroke="#231f20" stroke-width="0.12" >High copy gain</text>
<rect x="236.3" y="502.5" width="6.6" height="6.3" fill="#b5505a" />
<text x="245.8" y="508.3" font-size="7.0" text-anchor="start" fill="#231f20" font-weight="normal" font-style="normal" stroke="#231f20" stroke-width="0.12" >Loss</text>
<rect x="266.3" y="502.5" width="6.6" height="6.3" fill="#9b1428" />
<text x="276.3" y="508.3" font-size="7.0" text-anchor="start" fill="#231f20" font-weight="normal" font-style="normal" stroke="#231f20" stroke-width="0.12" >Homozygous loss</text>
<rect x="335" y="502.5" width="6.6" height="6.3" fill="#e2b425" />
<text x="344.5" y="508.3" font-size="7.0" text-anchor="start" fill="#231f20" font-weight="normal" font-style="normal" stroke="#231f20" stroke-width="0.12" >CN-loss of heterozygosity</text>
<rect x="0.5" y="0.5" width="519" height="514" fill="none" stroke="#767676" stroke-width="1"/>
</svg>
</body></html>
